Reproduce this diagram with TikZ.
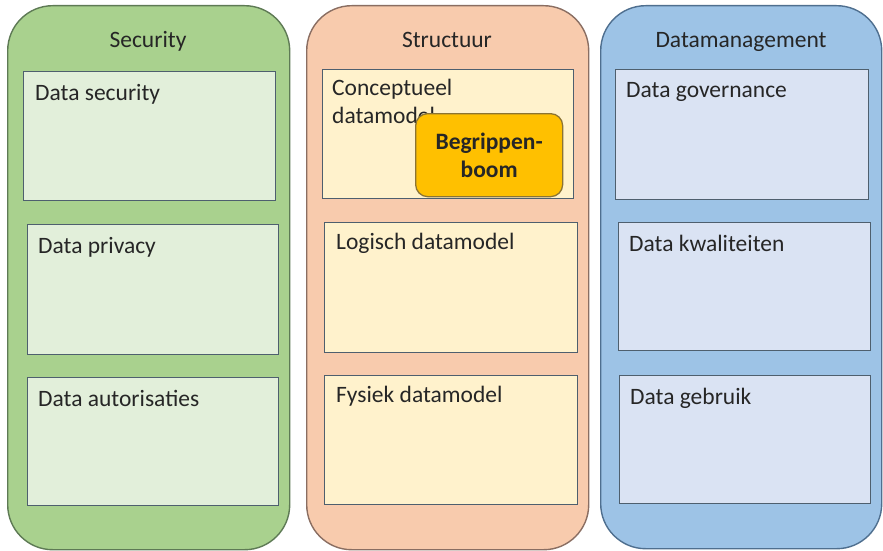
\documentclass[tikz,border=0pt]{standalone}
\usepackage{fontspec}
\setmainfont{Carlito}
\usetikzlibrary{calc}
\definecolor{secfill}{HTML}{A9D18E}
\definecolor{secline}{HTML}{5E7A55}
\definecolor{secin}{HTML}{E2EFDA}
\definecolor{strfill}{HTML}{F8CBAD}
\definecolor{strline}{HTML}{8A6E62}
\definecolor{strin}{HTML}{FFF2CC}
\definecolor{dmfill}{HTML}{9DC3E6}
\definecolor{dmline}{HTML}{4F6F8F}
\definecolor{dmin}{HTML}{DAE3F3}
\definecolor{inline}{HTML}{4E5F6E}
\definecolor{bbfill}{HTML}{FFC000}
\definecolor{bbline}{HTML}{8C7433}
\definecolor{txt}{HTML}{262626}
\tikzset{
  panel/.style={rounded corners=45pt, line width=1.4pt, anchor=north west, inner sep=0pt},
  inbox/.style={draw=inline, line width=1.3pt, anchor=north west, inner sep=0pt},
  lbl/.style={anchor=base west, inner sep=0pt, text=txt, font=\fontsize{23.5}{28}\selectfont},
  ttl/.style={anchor=base, inner sep=0pt, text=txt, font=\fontsize{23.5}{28}\selectfont},
}
\begin{document}
\begin{tikzpicture}[x=1pt, y=-1pt]
\useasboundingbox (0,0) rectangle (883,551);

% three column panels
\node[panel, draw=secline, fill=secfill, minimum width=282pt, minimum height=544pt] (sec) at (7,5) {};
\node[panel, draw=strline, fill=strfill, minimum width=282pt, minimum height=544pt] (str) at (306,5) {};
\node[panel, draw=dmline, fill=dmfill, minimum width=281pt, minimum height=543pt] (dm) at (600,5) {};

\node[ttl] (secT) at (148,48) {Security};
\node[ttl] (strT) at (447,48) {Structuur};
\node[ttl] (dmT) at (741,48) {Datamanagement};

% Security column
\node[inbox, fill=secin, minimum width=252pt, minimum height=129pt] (s1) at (23,71) {};
\node[inbox, fill=secin, minimum width=251pt, minimum height=130pt] (s2) at (27,224) {};
\node[inbox, fill=secin, minimum width=251pt, minimum height=128pt] (s3) at (27,377) {};
\node[lbl] (s1t) at ($(s1.north west)+(12,29)$) {Data security};
\node[lbl] (s2t) at ($(s2.north west)+(11,29)$) {Data privacy};
\node[lbl] (s3t) at ($(s3.north west)+(11,29)$) {Data autorisaties};

% Structuur column (the base anchor of a two-line label sits on its last line)
\node[inbox, fill=strin, minimum width=251pt, minimum height=129pt] (t1) at (322,69) {};
\node[inbox, fill=strin, minimum width=253pt, minimum height=130pt] (t2) at (324,222) {};
\node[inbox, fill=strin, minimum width=253pt, minimum height=129pt] (t3) at (324,375) {};
\node[lbl, align=left] (t1t) at ($(t1.north west)+(10,54)$) {Conceptueel\\datamodel};
\node[lbl] (t2t) at ($(t2.north west)+(12,27)$) {Logisch datamodel};
\node[lbl] (t3t) at ($(t3.north west)+(12,27)$) {Fysiek datamodel};

% overlay on the conceptual model
\node[draw=bbline, fill=bbfill, line width=1.3pt, rounded corners=12pt, anchor=north west,
      inner sep=0pt, minimum width=147pt, minimum height=83pt] (bb) at (415,113) {};
\node[align=center, inner sep=0pt, text=txt, font=\fontsize{23.5}{28}\selectfont\bfseries]
      (bbt) at (bb.center) {Begrippen-\\boom};

% Datamanagement column
\node[inbox, fill=dmin, minimum width=253pt, minimum height=130pt] (d1) at (615,69) {};
\node[inbox, fill=dmin, minimum width=252pt, minimum height=128pt] (d2) at (618,222) {};
\node[inbox, fill=dmin, minimum width=251pt, minimum height=128pt] (d3) at (619,375) {};
\node[lbl] (d1t) at ($(d1.north west)+(11,28)$) {Data governance};
\node[lbl] (d2t) at ($(d2.north west)+(11,29)$) {Data kwaliteiten};
\node[lbl] (d3t) at ($(d3.north west)+(11,29)$) {Data gebruik};
\end{tikzpicture}
\end{document}
